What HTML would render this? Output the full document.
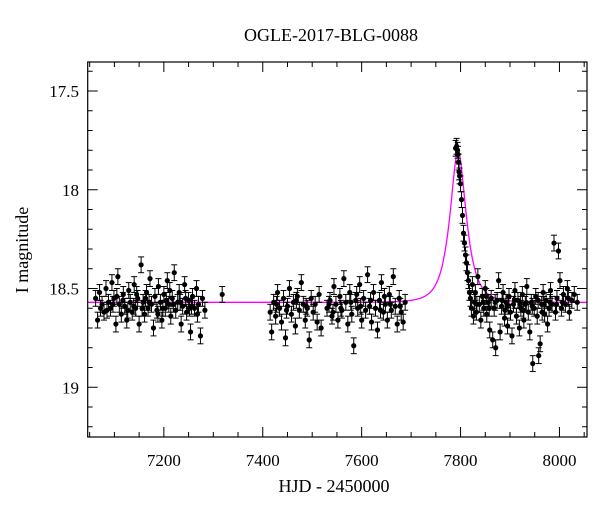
<!DOCTYPE html>
<html><head><meta charset="utf-8">
<style>
body{margin:0;background:#fff;}
svg{display:block;font-family:"Liberation Serif",serif;}
</style></head>
<body>
<svg id="chart" width="600" height="512" viewBox="0 0 600 512" xmlns="http://www.w3.org/2000/svg">
<text x="331" y="41" font-size="18" text-anchor="middle">OGLE-2017-BLG-0088</text>
<text x="334" y="492" font-size="18" text-anchor="middle">HJD - 2450000</text>
<text transform="translate(28,250) rotate(-90)" font-size="18" text-anchor="middle">I magnitude</text>
<g id="ticks"></g>
<g id="model"></g>
<g id="points"></g>
<rect x="87.7" y="62" width="499.3" height="375" fill="none" stroke="#000" stroke-width="1.2"/>
</svg>
<script>
const xTickLabels = [7200, 7400, 7600, 7800, 8000];
const yTickLabels = [17.5, 18, 18.5, 19];
const errorBar = 0.04;
const model = {t0: 7795, u0: 0.55, tE: 27, base: 18.57};
const season1 = [[7062,18.55],[7066,18.66],[7070,18.52],[7075,18.58],[7079,18.62],[7083,18.50],[7088,18.57],[7092,18.60],[7095,18.47],[7099,18.55],[7103,18.68],[7107,18.44],[7110,18.58],[7114,18.63],[7118,18.53],[7121,18.59],[7125,18.66],[7129,18.51],[7132,18.57],[7136,18.62],[7140,18.48],[7143,18.60],[7147,18.55],[7150,18.68],[7154,18.38],[7158,18.57],[7161,18.63],[7165,18.52],[7168,18.60],[7172,18.45],[7175,18.58],[7179,18.70],[7182,18.54],[7186,18.61],[7189,18.49],[7193,18.57],[7196,18.66],[7200,18.53],[7203,18.60],[7207,18.46],[7210,18.58],[7214,18.64],[7217,18.55],[7221,18.42],[7224,18.61],[7228,18.57],[7231,18.52],[7235,18.68],[7238,18.59],[7242,18.48],[7246,18.62],[7250,18.56],[7254,18.72],[7258,18.54],[7262,18.60],[7266,18.50],[7270,18.58],[7274,18.74],[7278,18.55],[7283,18.61],[7318,18.53],[7085,18.61],[7117,18.56],[7139,18.59],[7163,18.55],[7188,18.63],[7212,18.51],[7233,18.57],[7256,18.59],[7072,18.60],[7097,18.58],[7127,18.61],[7145,18.53],[7170,18.57],[7198,18.60],[7219,18.58],[7244,18.55],[7268,18.63],[7105,18.54],[7156,18.60],[7205,18.56],[7252,18.60]];
const season2 = [[7415,18.62],[7418,18.72],[7422,18.57],[7426,18.64],[7430,18.52],[7434,18.60],[7438,18.67],[7442,18.55],[7446,18.75],[7450,18.59],[7454,18.50],[7458,18.63],[7462,18.57],[7466,18.69],[7470,18.54],[7474,18.61],[7478,18.47],[7482,18.58],[7486,18.66],[7490,18.60],[7494,18.76],[7498,18.55],[7502,18.62],[7506,18.58],[7510,18.67],[7514,18.53],[7518,18.70],[7530,18.60],[7536,18.56],[7540,18.64],[7544,18.49],[7548,18.58],[7552,18.66],[7556,18.54],[7560,18.61],[7564,18.45],[7568,18.57],[7572,18.68],[7576,18.52],[7580,18.63],[7584,18.79],[7588,18.56],[7592,18.60],[7596,18.48],[7600,18.66],[7604,18.55],[7608,18.61],[7612,18.43],[7616,18.59],[7620,18.67],[7624,18.52],[7628,18.60],[7632,18.71],[7636,18.56],[7640,18.47],[7644,18.62],[7648,18.58],[7652,18.66],[7656,18.53],[7660,18.61],[7664,18.44],[7668,18.59],[7672,18.68],[7676,18.55],[7680,18.62],[7684,18.67],[7688,18.57],[7428,18.58],[7448,18.61],[7468,18.56],[7488,18.59],[7534,18.58],[7558,18.60],[7578,18.57],[7598,18.59],[7618,18.56],[7638,18.61],[7658,18.58],[7678,18.59],[7590,18.53],[7646,18.54],[7542,18.62]];
const season3 = [[7790,17.79],[7792,17.78],[7794,17.80],[7795,17.82],[7796,17.86],[7797,17.91],[7798,17.93],[7800,17.97],[7802,18.05],[7804,18.13],[7806,18.22],[7808,18.27],[7810,18.33],[7812,18.37],[7814,18.42],[7816,18.46],[7818,18.52],[7820,18.55],[7822,18.60],[7824,18.48],[7826,18.64],[7828,18.57],[7830,18.52],[7832,18.62],[7835,18.44],[7838,18.58],[7841,18.66],[7844,18.54],[7847,18.60],[7850,18.50],[7853,18.63],[7856,18.57],[7859,18.71],[7862,18.55],[7865,18.76],[7868,18.60],[7871,18.80],[7874,18.56],[7877,18.46],[7880,18.72],[7883,18.59],[7886,18.52],[7889,18.65],[7892,18.57],[7895,18.69],[7898,18.54],[7901,18.62],[7904,18.74],[7907,18.58],[7910,18.51],[7913,18.64],[7916,18.56],[7919,18.70],[7922,18.60],[7925,18.53],[7928,18.66],[7931,18.58],[7934,18.49],[7937,18.62],[7940,18.72],[7943,18.57],[7946,18.88],[7949,18.60],[7952,18.54],[7955,18.64],[7958,18.84],[7961,18.78],[7964,18.58],[7967,18.52],[7970,18.63],[7973,18.56],[7976,18.68],[7979,18.60],[7982,18.51],[7985,18.58],[7989,18.27],[7992,18.62],[7995,18.55],[7998,18.31],[8001,18.46],[8004,18.60],[8008,18.53],[8012,18.58],[8016,18.50],[8020,18.62],[8025,18.56],[8030,18.53],[8036,18.57],[7833,18.58],[7846,18.57],[7858,18.60],[7870,18.57],[7884,18.56],[7896,18.59],[7909,18.56],[7921,18.58],[7933,18.57],[7945,18.59],[7957,18.56],[7969,18.58],[7981,18.57],[7994,18.58],[8006,18.57],[8018,18.55],[7852,18.54],[7890,18.61],[7927,18.61],[7965,18.62]];

const X0 = 7046, PXD = 0.4945, LEFT = 87.7, RIGHT = 587, TOP = 62, BOTTOM = 437;
function xs(t){ return LEFT + (t - X0) * PXD; }
function ys(m){ return 91 + (m - 17.5) * 197.5; }
const NS = "http://www.w3.org/2000/svg";
function mk(tag, attrs, parent){ const e = document.createElementNS(NS, tag); for (const k in attrs) e.setAttribute(k, attrs[k]); parent.appendChild(e); return e; }

const tg = document.getElementById('ticks');
for (let t = 7050; t <= 8050; t += 50) {
  const major = t % 200 === 0, len = major ? 10 : 5, x = xs(t);
  const a = mk('line', {x1:x, x2:x, y1:BOTTOM, y2:BOTTOM-len, stroke:'#000'}, tg);
  
  
  const b = mk('line', {x1:x, x2:x, y1:TOP, y2:TOP+len, stroke:'#000'}, tg);
  
  
}
xTickLabels.forEach(v => {
  const tx = mk('text', {x:xs(v), y:466, 'font-size':17, 'text-anchor':'middle'}, tg);
  tx.textContent = v;
  
  
});
for (let i = 14; i <= 32; i++) {
  const m = i / 10 + 16; const y = ys(m);
  if (y < TOP || y > BOTTOM) continue;
  const major = i % 5 === 0, len = major ? 10 : 5;
  const a = mk('line', {x1:LEFT, x2:LEFT+len, y1:y, y2:y, stroke:'#000'}, tg);
  
  
  const b = mk('line', {x1:RIGHT, x2:RIGHT-len, y1:y, y2:y, stroke:'#000'}, tg);
  
  
}
yTickLabels.forEach(v => {
  const tx = mk('text', {x:79, y:ys(v)+6, 'font-size':17, 'text-anchor':'end'}, tg);
  tx.textContent = v;
  
  
});

function magAt(t){
  const tau = (t - model.t0) / model.tE, u = Math.sqrt(model.u0*model.u0 + tau*tau);
  const A = (u*u + 2) / (u * Math.sqrt(u*u + 4));
  return model.base - 2.5 * Math.log10(A);
}
let d = '';
for (let t = X0; t <= 8056; t += 1) d += (d ? 'L' : 'M') + xs(t).toFixed(1) + ',' + ys(magAt(t)).toFixed(1);
const path = mk('path', {d:d, fill:'none', stroke:'#ff00ff', 'stroke-width':1.3}, document.getElementById('model'));



const pg = document.getElementById('points');
[season1, season2, season3].forEach(season => {
  season.forEach(p => {
    const x = xs(p[0]), y = ys(p[1]), y1 = ys(p[1]-errorBar), y2 = ys(p[1]+errorBar);
    const g = mk('g', {}, pg);
    
    
    mk('line', {x1:x, x2:x, y1:y1, y2:y2, stroke:'#000', 'stroke-width':1}, g);
    mk('line', {x1:x-3, x2:x+3, y1:y1, y2:y1, stroke:'#000', 'stroke-width':1}, g);
    mk('line', {x1:x-3, x2:x+3, y1:y2, y2:y2, stroke:'#000', 'stroke-width':1}, g);
    mk('circle', {cx:x, cy:y, r:2.6, fill:'#000'}, g);
  });
});
</script>
</body></html>
